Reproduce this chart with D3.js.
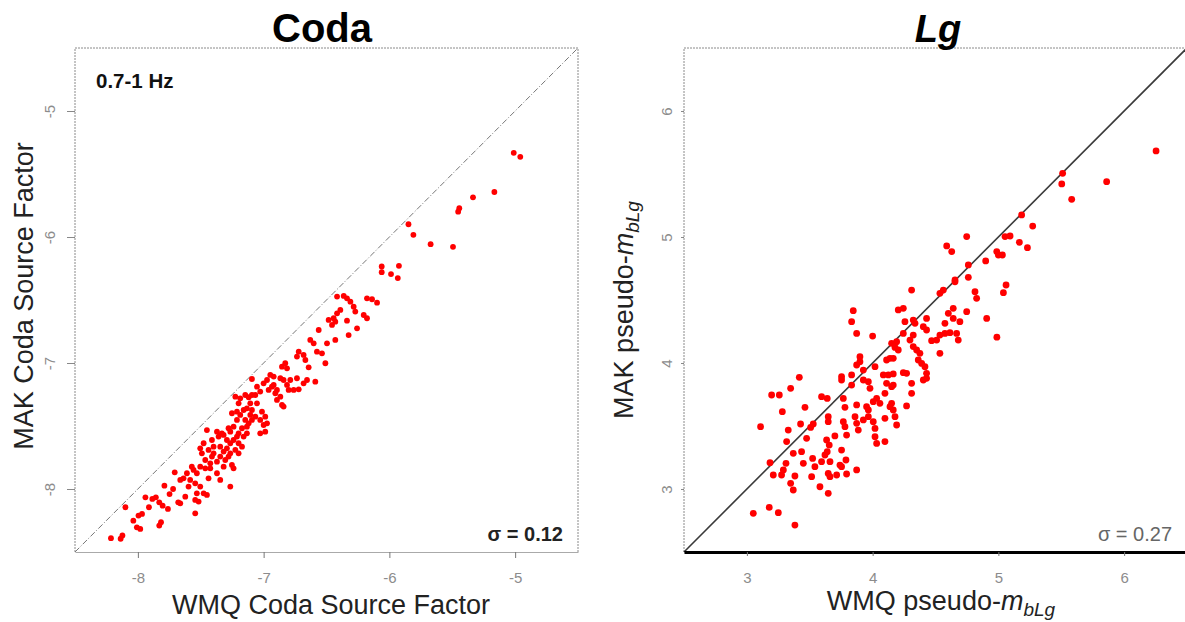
<!DOCTYPE html>
<html>
<head>
<meta charset="utf-8">
<script src="https://cdn.jsdelivr.net/npm/d3@7"></script>
<style>
  html, body { margin: 0; padding: 0; background: #fff; }
  svg { display: block; }
  text { font-family: "Liberation Sans", Arial, Helvetica, sans-serif; }
</style>
</head>
<body>
<svg id="chart" width="1185" height="622"></svg>
<script>
// ---- Coda panel: WMQ (x) vs MAK (y) coda source factors, 0.7-1 Hz ----
const codaPairs = [
  [-6.416,-6.473],[-6.363,-6.468],[-6.337,-6.487],[-6.310,-6.513],[-6.284,-6.553],[-6.271,-6.592],
  [-6.178,-6.487],[-6.138,-6.494],[-6.098,-6.521],[-6.204,-6.619],[-6.178,-6.645],[-6.390,-6.579],
  [-6.416,-6.606],[-6.443,-6.645],[-6.483,-6.658],[-6.456,-6.698],[-6.430,-6.672],[-6.337,-6.664],
  [-6.257,-6.725],[-6.324,-6.778],[-6.430,-6.817],[-6.496,-6.844],[-6.562,-6.738],[-6.629,-6.817],
  [-6.602,-6.844],[-6.576,-6.910],[-6.536,-6.923],[-6.509,-7.002],[-6.721,-6.910],[-6.735,-6.949],
  [-6.682,-6.936],[-6.668,-6.976],[-6.642,-7.034],[-6.589,-7.148],[-6.655,-7.135],[-6.682,-7.161],
  [-6.735,-7.121],[-6.761,-7.214],[-6.801,-7.214],[-6.721,-7.209],[-6.828,-7.002],[-6.854,-7.029],
  [-6.814,-7.042],[-6.867,-7.121],[-6.841,-7.135],[-6.814,-7.174],[-6.947,-7.095],[-6.973,-7.135],
  [-7.000,-7.161],[-6.920,-7.108],[-6.934,-7.188],[-6.960,-7.214],[-6.907,-7.240],[-6.867,-7.267],
  [-6.854,-7.333],[-6.894,-7.293],[-6.841,-7.346],[-7.093,-7.127],[-7.053,-7.188],[-7.027,-7.227],
  [-7.066,-7.254],[-7.119,-7.272],[-7.146,-7.254],[-7.186,-7.280],[-7.225,-7.267],[-7.199,-7.320],
  [-7.159,-7.373],[-7.133,-7.360],[-7.093,-7.373],[-7.106,-7.412],[-7.146,-7.452],[-7.119,-7.479],
  [-7.066,-7.426],[-7.027,-7.452],[-6.987,-7.426],[-6.973,-7.479],[-7.000,-7.492],[-7.027,-7.558],
  [-6.987,-7.545],[-7.186,-7.412],[-7.212,-7.452],[-7.239,-7.505],[-7.172,-7.518],[-7.199,-7.558],
  [-7.212,-7.584],[-7.159,-7.584],[-7.172,-7.664],[-7.239,-7.611],[-7.265,-7.637],[-7.292,-7.677],
  [-7.318,-7.703],[-7.345,-7.743],[-7.305,-7.770],[-7.252,-7.809],[-7.239,-7.836],[-7.279,-7.743],
  [-7.199,-7.717],[-7.225,-7.690],[-7.358,-7.584],[-7.332,-7.558],[-7.292,-7.611],[-7.411,-7.611],
  [-7.451,-7.532],[-7.398,-7.664],[-7.438,-7.690],[-7.477,-7.637],[-7.504,-7.677],[-7.371,-7.783],
  [-7.424,-7.796],[-7.464,-7.770],[-7.504,-7.823],[-7.531,-7.875],[-7.557,-7.849],[-7.610,-7.875],
  [-7.637,-7.915],[-7.663,-7.928],[-7.584,-7.928],[-7.544,-7.955],[-7.504,-7.981],[-7.477,-8.034],
  [-7.531,-8.034],[-7.451,-8.047],[-7.544,-8.087],[-7.597,-7.981],[-7.265,-7.981],[-7.623,-8.061],
  [-7.663,-8.114],[-7.544,-8.193],[-7.517,-8.100],[-7.438,-7.915],[-7.345,-7.928],[-7.371,-7.875],
  [-7.424,-7.836],[-7.398,-7.717],[-7.265,-7.545],[-7.106,-7.320],[-7.133,-7.505],[-7.318,-7.571],
  [-7.252,-7.399],[-7.212,-7.386],[-7.345,-7.664],[-7.279,-7.518],[-7.371,-7.545],[-7.491,-7.717],
  [-7.571,-7.823],[-7.464,-7.836],[-7.093,-7.254],[-7.053,-7.320],[-7.013,-7.386],[-6.920,-7.174],
  [-6.894,-7.214],[-6.788,-7.135],[-7.133,-7.558],[-7.093,-7.452],[-7.318,-7.823],[-7.265,-7.717],
  [-7.411,-7.743],[-7.199,-7.637],
  [-8.214,-8.390],[-8.123,-8.369],[-8.137,-8.395],[-8.099,-8.145],[-8.036,-8.251],[-8.008,-8.304],
  [-7.981,-8.317],[-7.995,-8.211],[-7.967,-8.198],[-7.940,-8.066],[-7.912,-8.145],[-7.885,-8.079],
  [-7.857,-8.066],[-7.830,-8.106],[-7.816,-8.264],[-7.830,-8.290],[-7.803,-8.132],[-7.789,-7.974],
  [-7.761,-8.158],[-7.748,-8.040],[-7.720,-8.000],[-7.707,-7.868],[-7.679,-8.106],
  [-5.011,-5.332],[-4.959,-5.364],[-5.165,-5.643],[-5.335,-5.685],[-5.444,-5.772],[-5.453,-5.799],
  [-5.848,-5.899],[-5.809,-5.983],[-5.672,-6.057],[-5.494,-6.078],[-6.061,-6.234],[-5.924,-6.229],
  [-6.061,-6.279],[-5.987,-6.294],[-5.933,-6.326]
];

// ---- Lg panel: WMQ (x) vs MAK (y) pseudo-mbLg ----
const lgPairs = [
  [3.051,2.807],[3.178,2.854],[3.250,2.812],[3.382,2.714],[3.109,3.495],[3.197,3.746],[3.258,3.746],
  [3.348,3.799],[3.417,3.886],[3.282,3.614],[3.329,3.468],[3.316,3.376],[3.427,3.516],[3.462,3.648],
  [3.507,3.489],[3.528,3.516],[3.475,3.402],[3.594,3.733],[3.639,3.719],[3.647,3.574],[3.647,3.534],
  [3.634,3.389],[3.655,3.349],[3.700,3.421],[3.639,3.296],[3.621,3.270],[3.523,3.243],[3.541,3.177],
  [3.594,3.217],[3.661,3.217],[3.449,3.204],[3.369,3.283],[3.311,3.204],[3.290,3.151],[3.276,3.111],
  [3.210,3.111],[3.184,3.209],[3.348,3.045],[3.369,2.992],[3.382,3.103],[3.435,3.296],[3.515,3.098],
  [3.581,3.018],[3.647,2.966],[3.647,3.124],[3.661,3.098],[3.714,3.111],[3.753,3.177],[3.740,3.190],
  [3.788,3.230],[3.793,3.119],[3.873,3.151],[3.753,3.309],[3.793,3.428],[3.780,3.495],[3.767,3.534],
  [3.780,3.648],[3.767,3.719],[3.753,3.865],[3.753,3.891],[3.833,3.905],[3.833,3.825],[3.873,3.984],
  [3.873,3.667],[3.860,3.574],[3.873,3.521],[3.886,3.468],[3.899,4.010],[3.899,4.050],[3.926,3.865],
  [3.966,3.852],[3.926,3.944],[4.019,3.971],[3.979,3.799],[3.952,3.653],[3.966,3.627],[3.966,3.574],
  [3.926,3.548],[4.005,3.534],[4.019,3.481],[4.019,3.415],[4.032,3.362],[4.098,3.376],[4.005,3.693],
  [4.032,3.719],[4.058,3.680],[4.098,3.561],[4.138,3.653],[4.151,3.680],[4.164,3.627],[4.178,3.574],
  [4.191,3.508],[4.098,3.759],[4.111,3.839],[4.151,3.812],[4.164,3.825],[4.085,3.905],[4.125,3.905],
  [4.164,3.913],[4.244,3.923],[4.270,3.918],[4.310,3.839],[4.310,3.759],[4.270,3.659],[4.111,4.024],
  [4.138,4.037],[4.164,4.037],[4.151,4.156],[4.191,4.169],[4.178,4.124],[4.204,4.103],[4.244,4.235],
  [4.297,4.182],[4.323,4.130],[4.350,4.103],[4.323,4.222],[4.337,4.315],[4.363,4.024],[4.390,3.997],
  [4.376,4.077],[4.416,3.971],[4.429,3.918],[4.429,3.878],[4.403,3.865],[4.403,4.288],[4.429,4.354],
  [4.429,4.262],[4.469,4.177],[4.509,4.182],[4.535,4.077],[4.535,4.222],[4.575,4.235],[4.615,4.241],
  [4.668,4.235],[4.681,4.182],[4.575,4.315],[4.602,4.394],[4.641,4.434],[4.641,4.354],[4.694,4.328],
  [4.748,4.407],[4.257,4.328],[4.323,4.341],[4.204,4.421],[4.244,4.434],[3.846,4.415],[3.833,4.328],
  [3.873,4.235],[4.000,4.214],[4.310,4.579],[4.535,4.553],[4.562,4.579],[4.655,4.645],[4.761,4.680],
  [4.814,4.566],[4.827,4.513],[4.907,4.354],
  [6.254,5.683],[5.861,5.439],[5.583,5.299],[5.511,5.505],[5.504,5.421],[5.273,5.087],[5.185,5.175],
  [5.231,4.915],[5.167,4.958],[5.093,5.008],[5.053,5.003],[5.032,4.857],[4.987,4.884],[5.000,4.857],
  [4.899,4.810],[4.761,4.778],[4.748,5.003],[4.589,4.929],[4.629,4.884],[4.655,4.659],[5.040,4.558],
  [5.061,4.619],[4.988,4.205]
];

const codaDomain = [-8.5, -4.5];
const lgDomain = [2.5, 6.5];
const codaTicks = [-8, -7, -6, -5];
const lgTicks = [3, 4, 5, 6];

const svg = d3.select("#chart");
const plotTop = 48, plotBottom = 552;

function panel(opts) {
  const x = d3.scaleLinear().domain(opts.domain).range([opts.left, opts.right]);
  const y = d3.scaleLinear().domain(opts.domain).range([plotBottom, plotTop]);
  const g = svg.append("g");

  // dotted frame on top, left and right
  const lo = opts.domain[0], hi = opts.domain[1];
  const frame = [
    [[lo, hi], [hi, hi]],
    [[lo, lo], [lo, hi]],
    [[hi, lo], [hi, hi]]
  ];
  frame.forEach(([a, b]) => {
    g.append("line")
      .attr("x1", x(a[0])).attr("y1", y(a[1]))
      .attr("x2", x(b[0])).attr("y2", y(b[1]))
      .attr("stroke", "#8a8a8a").attr("stroke-width", 1)
      .attr("stroke-dasharray", "2,1");
  });

  // 1:1 reference line
  g.append("line")
    .attr("x1", x(lo)).attr("y1", y(lo))
    .attr("x2", x(hi)).attr("y2", y(hi))
    .attr("stroke", opts.diagColor).attr("stroke-width", opts.diagWidth)
    .attr("stroke-dasharray", opts.diagDash);

  // points
  g.selectAll("circle.pt").data(opts.data).join("circle")
    .attr("class", "pt")
    .attr("cx", d => x(d[0])).attr("cy", d => y(d[1]))
    .attr("r", opts.r).attr("fill", "#ff0000");

  // bottom axis
  const ax = g.append("g").attr("transform", `translate(0,${plotBottom})`)
    .call(d3.axisBottom(x).tickValues(opts.ticks).tickSize(opts.xTick)
      .tickFormat(d => String(d)).tickSizeOuter(0));
  ax.select(".domain").attr("stroke", opts.baseColor).attr("stroke-width", opts.baseWidth);
  ax.selectAll(".tick line").attr("stroke", "#777");
  ax.selectAll(".tick text").attr("y", 31).attr("dy", 0)
    .attr("font-size", 15).attr("fill", "#8c8c8c");

  // left axis, labels rotated along the axis
  const ay = g.append("g").attr("transform", `translate(${opts.left},0)`)
    .call(d3.axisLeft(y).tickValues(opts.ticks).tickSize(opts.yTick)
      .tickFormat(d => String(d)).tickSizeOuter(0));
  ay.select(".domain").remove();
  ay.selectAll(".tick line").attr("stroke", "#888");
  ay.selectAll(".tick text")
    .attr("x", 0).attr("y", 0).attr("dy", 0)
    .attr("text-anchor", "middle")
    .attr("transform", `translate(${opts.yLabelOff},0) rotate(-90)`)
    .attr("font-size", 15).attr("fill", "#8c8c8c");

  return { x, y, g };
}

panel({
  domain: codaDomain, left: 75, right: 578, ticks: codaTicks, data: codaPairs,
  r: 2.9, diagColor: "#777", diagWidth: 1, diagDash: "6,2,1,2",
  baseColor: "#aaa", baseWidth: 1, xTick: 6, yTick: 8, yLabelOff: -20
});

panel({
  domain: lgDomain, left: 684, right: 1187, ticks: lgTicks, data: lgPairs,
  r: 3.4, diagColor: "#3a3a3a", diagWidth: 1.6, diagDash: null,
  baseColor: "#000", baseWidth: 3, xTick: 4, yTick: 3, yLabelOff: -12
});

// titles
svg.append("text").attr("x", 322).attr("y", 42).attr("text-anchor", "middle")
  .attr("font-size", 40).attr("font-weight", "bold").attr("fill", "#000").text("Coda");
svg.append("text").attr("x", 938).attr("y", 42).attr("text-anchor", "middle")
  .attr("font-size", 38).attr("font-weight", "bold").attr("font-style", "italic")
  .attr("fill", "#000").text("Lg");

// in-panel annotations
svg.append("text").attr("x", 96).attr("y", 88).attr("font-size", 20.5)
  .attr("font-weight", "bold").attr("fill", "#111").text("0.7-1 Hz");
svg.append("text").attr("x", 563).attr("y", 541).attr("text-anchor", "end")
  .attr("font-size", 20).attr("font-weight", "bold").attr("fill", "#222").text("σ = 0.12");
svg.append("text").attr("x", 1172).attr("y", 541).attr("text-anchor", "end")
  .attr("font-size", 20).attr("fill", "#666").text("σ = 0.27");

// axis titles
svg.append("text").attr("x", 331).attr("y", 614).attr("text-anchor", "middle")
  .attr("font-size", 27).attr("fill", "#222").text("WMQ Coda Source Factor");
svg.append("text").attr("transform", "translate(33,296) rotate(-90)")
  .attr("text-anchor", "middle").attr("font-size", 27).attr("fill", "#222")
  .text("MAK Coda Source Factor");

function pseudoLabel(sel, who) {
  sel.append("tspan").text(who + " pseudo-");
  sel.append("tspan").attr("font-style", "italic").text("m");
  sel.append("tspan").attr("font-style", "italic").attr("font-size", 19)
    .attr("dy", 6).text("bLg");
}
const xl = svg.append("text").attr("x", 941).attr("y", 610).attr("text-anchor", "middle")
  .attr("font-size", 27).attr("fill", "#222");
pseudoLabel(xl, "WMQ");
const yl = svg.append("text").attr("transform", "translate(633,310) rotate(-90)")
  .attr("text-anchor", "middle").attr("font-size", 27).attr("fill", "#222");
pseudoLabel(yl, "MAK");
</script>
</body>
</html>
